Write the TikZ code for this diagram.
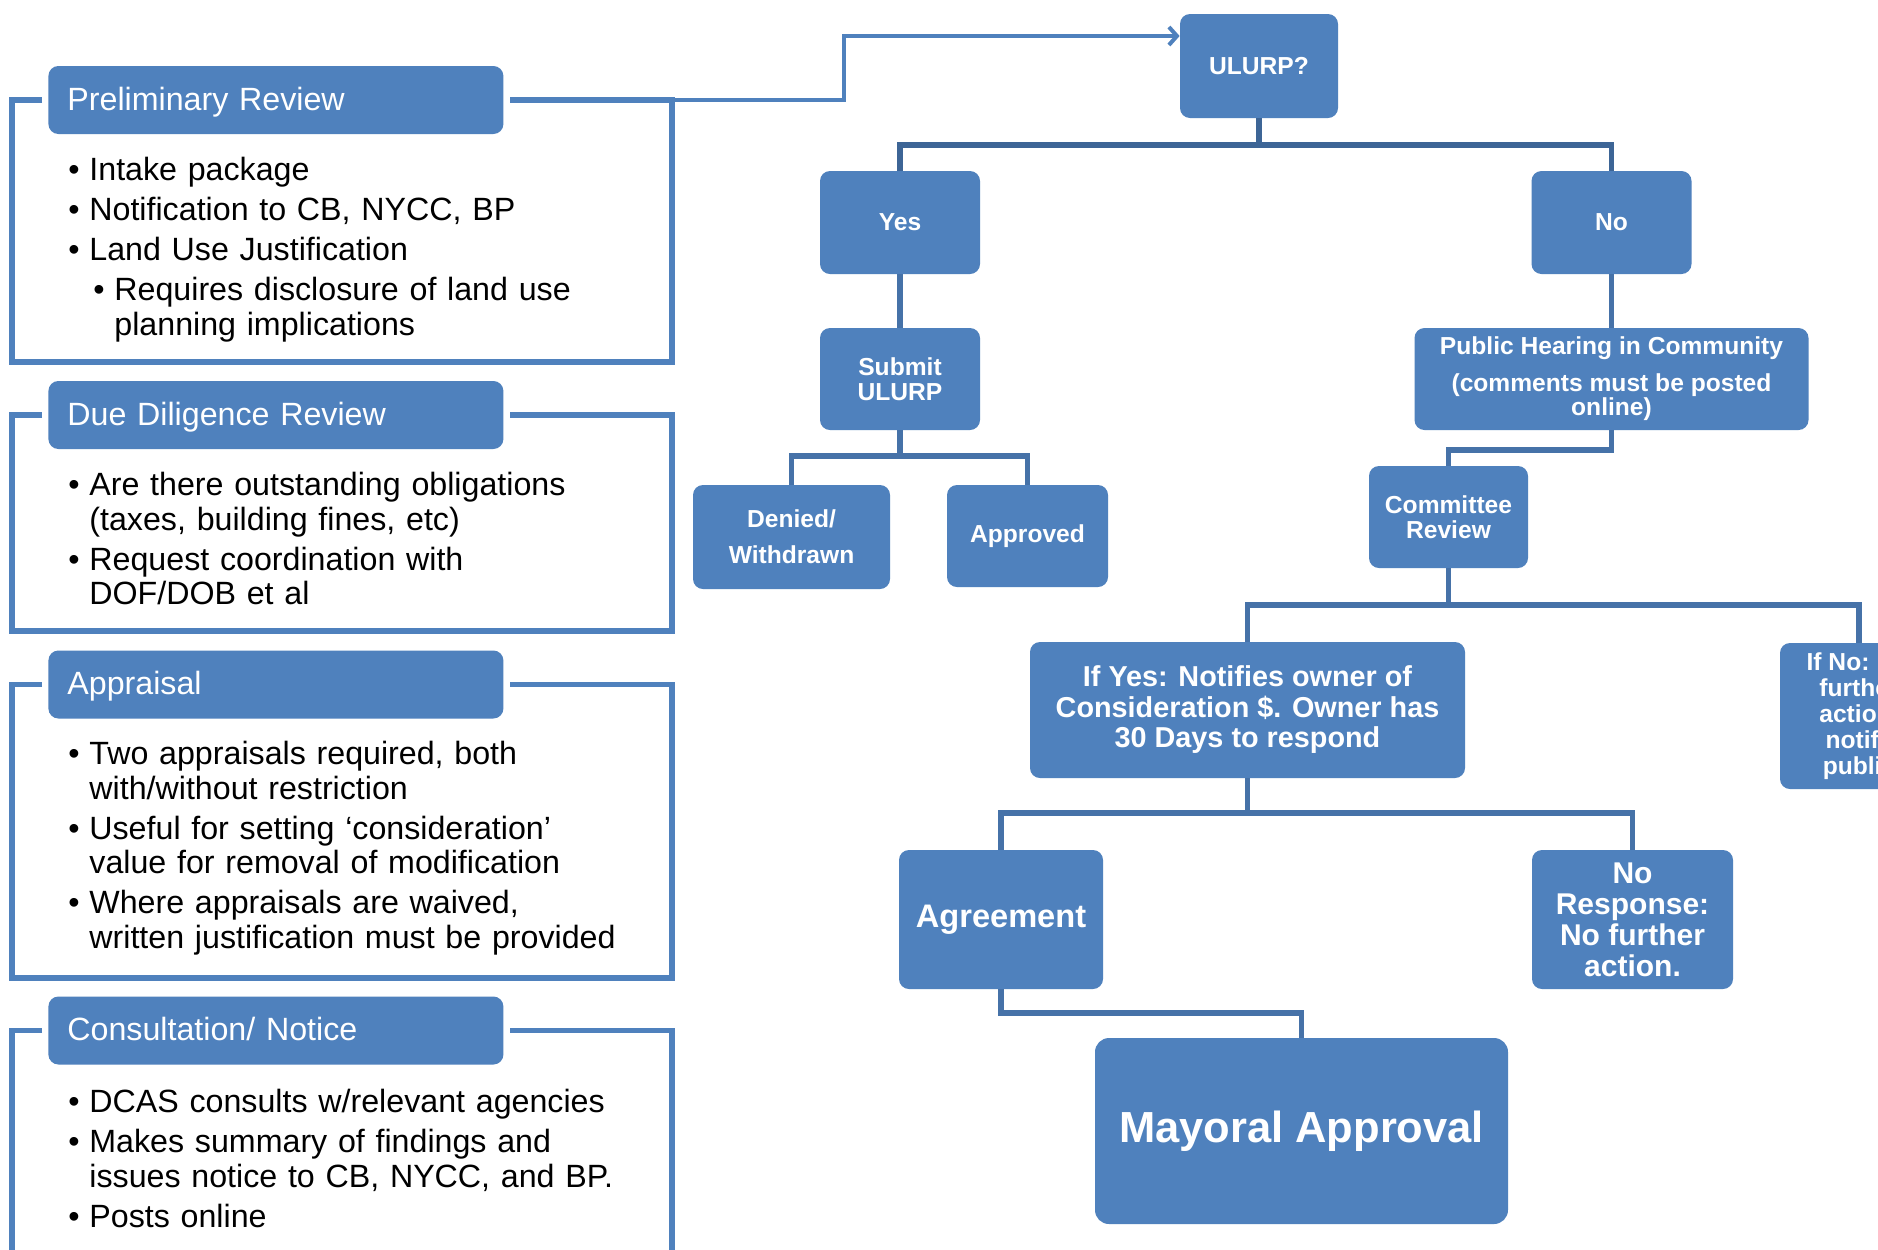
\documentclass[tikz,border=0pt]{standalone}
\usepackage{fontspec}
\setmainfont{Liberation Sans}
\usetikzlibrary{arrows.meta}
\definecolor{boxblue}{HTML}{4F81BD}
\definecolor{linkblue}{HTML}{4672A8}
\definecolor{linkdark}{HTML}{3D6596}
\newcommand{\panelfont}{\fontsize{16.1pt}{17.25pt}\selectfont}
\newcommand{\boxfont}{\bfseries\fontsize{12.3pt}{12.4pt}\selectfont}
\newcommand{\pitem}[1]{\hangindent=10.5pt\hangafter=1\noindent\makebox[10.5pt][l]{\textbullet}#1\par}
\newcommand{\psubitem}[1]{\hangindent=23pt\hangafter=1\noindent\hspace*{12.5pt}\makebox[10.5pt][l]{\textbullet}#1\par}

\begin{document}
\begin{tikzpicture}[x=0.5pt,y=-0.5pt,
    headbox/.style={anchor=west,fill=boxblue,text=white,rounded corners=5pt,
      text width=208.5pt,inner xsep=9.5pt,inner ysep=0pt,minimum height=34pt,
      text height=12pt,text depth=2pt,align=left,font=\panelfont},
    panel/.style={anchor=north west,text width=295pt,inner sep=0pt,align=left,font=\panelfont},
    frame/.style={draw=boxblue,line width=2.8pt},
    feed/.style={draw=boxblue,line width=2pt,-{Straight Barb[length=4pt,width=9pt]}},
    box/.style={fill=boxblue,text=white,rounded corners=5pt,align=center,inner sep=0pt,font=\boxfont},
    link/.style={draw=linkblue,line width=2.75pt}]
  \useasboundingbox (0,0) rectangle (1878,1249);
  \clip (0,0) rectangle (1878,1249);
  \fill[white] (0,0) rectangle (1878,1249);

  % left column: review steps
  \node[headbox] (prelimhead) at (48,100) {Preliminary Review};
  \node[panel] (prelimtext) at (68,157) {\parskip=2.75pt
    \pitem{Intake package}
    \pitem{Notification to CB, NYCC, BP}
    \pitem{Land Use Justification}
    \psubitem{Requires disclosure of land use\newline planning implications}};
  \coordinate (prelimcorner) at (672,100);
  \draw[frame] ([xshift=-3pt]prelimhead.west) -| (12,362) -| (prelimcorner) -- ([xshift=3pt]prelimhead.east);

  \node[headbox] (diligencehead) at (48,415) {Due Diligence Review};
  \node[panel] (diligencetext) at (68,472) {\parskip=2.75pt
    \pitem{Are there outstanding obligations\newline (taxes, building fines, etc)}
    \pitem{Request coordination with\newline DOF/DOB et al}};
  \draw[frame] ([xshift=-3pt]diligencehead.west) -| (12,631) -| (672,415) -- ([xshift=3pt]diligencehead.east);

  \node[headbox] (appraisalhead) at (48,684.5) {Appraisal};
  \node[panel] (appraisaltext) at (68,741) {\parskip=2.75pt
    \pitem{Two appraisals required, both\newline with/without restriction}
    \pitem{Useful for setting ‘consideration’\newline value for removal of modification}
    \pitem{Where appraisals are waived,\newline written justification must be provided}};
  \draw[frame] ([xshift=-3pt]appraisalhead.west) -| (12,978) -| (672,684.5) -- ([xshift=3pt]appraisalhead.east);

  \node[headbox] (noticehead) at (48,1030.5) {Consultation/ Notice};
  \node[panel] (noticetext) at (68,1089) {\parskip=2.75pt
    \pitem{DCAS consults w/relevant agencies}
    \pitem{Makes summary of findings and\newline issues notice to CB, NYCC, and BP.}
    \pitem{Posts online}};
  \draw[frame] ([xshift=-3pt]noticehead.west) -| (12,1280) -| (672,1030.5) -- ([xshift=3pt]noticehead.east);

  % right column: ULURP decision tree
  \node[box,minimum width=79pt,minimum height=52pt] (ulurp) at (1259,66) {ULURP?};
  \node[box,minimum width=80pt,minimum height=51.5pt] (yes) at (900,222.5) {Yes};
  \node[box,minimum width=80pt,minimum height=51.5pt] (no) at (1611.5,222.5) {No};
  \node[box,minimum width=80pt,minimum height=51pt] (submit) at (900,379) {Submit\\ULURP};
  \node[box,minimum width=98.5pt,minimum height=52pt] (denied) at (791.5,537) {Denied/\\[5.6pt]Withdrawn};
  \node[box,minimum width=80.5pt,minimum height=51pt] (approved) at (1027.5,536) {Approved};
  \node[box,minimum width=197pt,minimum height=51pt] (hearing) at (1611.5,379)
    {Public Hearing in Community\\[5.7pt](comments must be posted\\online)};
  \node[box,minimum width=79.5pt,minimum height=51pt] (committee) at (1448.5,517)
    {Committee\\Review};
  \node[box,minimum width=217.5pt,minimum height=68pt,
    font=\bfseries\fontsize{14.4pt}{15.25pt}\selectfont] (ifyes) at (1247.5,710)
    {If Yes: Notifies owner of\\Consideration \$. Owner has\\30 Days to respond};
  \node[box,minimum width=79pt,minimum height=73pt,
    font=\bfseries\fontsize{12.3pt}{13pt}\selectfont] (ifno) at (1859,716)
    {If No: No\\further\\action,\\notify\\public};
  \node[box,minimum width=102pt,minimum height=69.5pt,
    font=\bfseries\fontsize{16.3pt}{17pt}\selectfont] (agree) at (1001,919.5) {Agreement};
  \node[box,minimum width=100.5pt,minimum height=69.5pt,
    font=\bfseries\fontsize{15pt}{15.5pt}\selectfont] (noresp) at (1632.5,919.5)
    {No\\Response:\\No further\\action.};
  \node[box,minimum width=206.5pt,minimum height=93pt,rounded corners=7pt,
    font=\bfseries\fontsize{21.75pt}{22pt}\selectfont] (mayor) at (1301.5,1131) {Mayoral Approval};

  \draw[feed] (prelimcorner) -- (844,100) |- ([yshift=15pt]ulurp.west);

  \coordinate (ulurpjoin) at (1259,145);
  \coordinate (submitjoin) at (900,456);
  \coordinate (hearingjoin) at (1611.5,450);
  \coordinate (committeejoin) at (1448.5,605);
  \coordinate (ifyesjoin) at (1247.5,813);
  \coordinate (agreejoin) at (1001,1013);
  \draw[link,draw=linkdark] (ulurp.south) -- (ulurpjoin)
    (yes.north) |- (ulurpjoin) -| (no.north);
  \draw[link] (yes) -- (submit);
  \draw[link] (no) -- (hearing);
  \draw[link] (submit.south) -- (submitjoin)
    (denied.north) |- (submitjoin) -| (approved.north);
  \draw[link] (hearing.south) -- (hearingjoin) -| (committee.north);
  \draw[link] (committee.south) -- (committeejoin)
    (ifyes.north) |- (committeejoin) -| (ifno.north);
  \draw[link] (ifyes.south) -- (ifyesjoin)
    (agree.north) |- (ifyesjoin) -| (noresp.north);
  \draw[link] (agree.south) -- (agreejoin) -| (mayor.north);
\end{tikzpicture}
\end{document}
